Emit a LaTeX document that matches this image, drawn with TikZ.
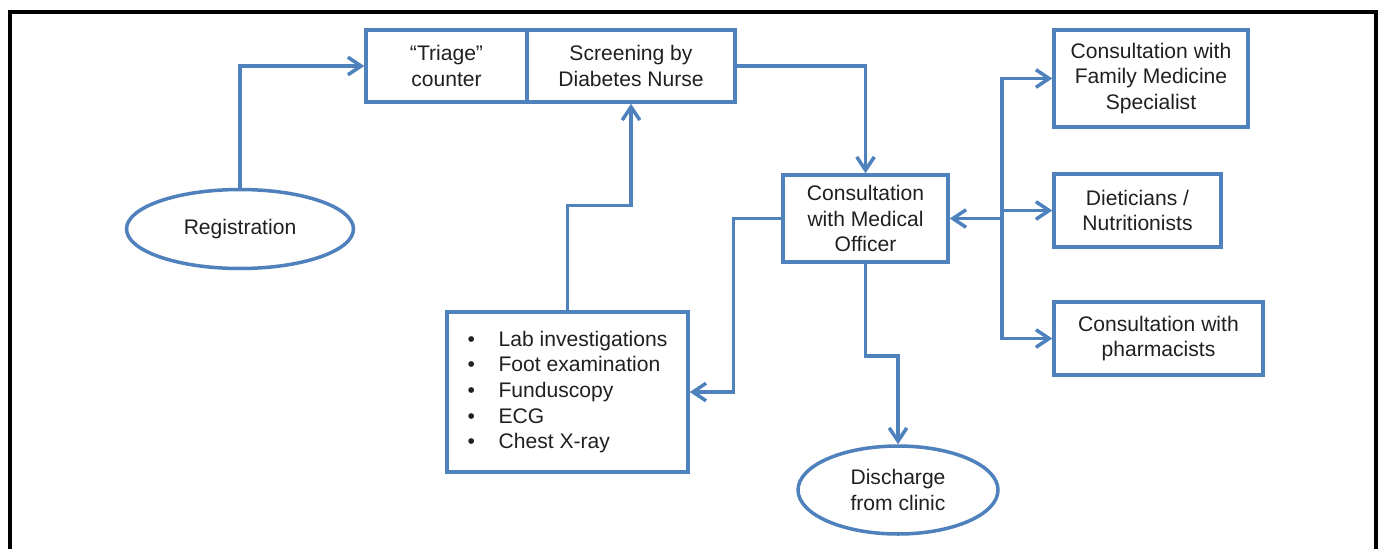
\documentclass[tikz,border=0pt]{standalone}
\usepackage{fontspec}
\setmainfont{Liberation Sans}
\usetikzlibrary{arrows.meta,shapes.geometric}
\definecolor{flowblue}{HTML}{4F81BD}
\definecolor{inktext}{HTML}{231F20}
\tikzset{
    flowbox/.style={draw=flowblue, line width=2pt, rectangle, align=center,
        text=inktext, font=\fontsize{12}{14.6}\selectfont, inner sep=0pt},
    flowoval/.style={flowbox, ellipse},
    flowarrow/.style={draw=flowblue, line width=2pt,
        -{Straight Barb[length=7.5pt,width=10pt,line width=2pt]}},
    flowline/.style={draw=flowblue, line width=2pt}
}
\begin{document}
\begin{tikzpicture}[x=0.02cm, y=-0.02cm]
    \useasboundingbox (0,0) rectangle (1381,548);

    % Draw the outer frame (its bottom side falls off the page)
    \draw[line width=2pt] (10,12) rectangle (1376,600);

    % Draw the boxes of the clinic flow
    \node[flowoval, minimum width=4.54cm, minimum height=1.58cm] (reg) at (240,229) {Registration};
    \node[flowbox, minimum width=3.22cm, minimum height=1.44cm] (triage) at (446.5,66) {“Triage”\\counter};
    \node[flowbox, minimum width=4.16cm, minimum height=1.44cm] (screen) at (631,66) {Screening by\\Diabetes Nurse};
    \node[flowbox, minimum width=3.3cm, minimum height=1.74cm] (mo) at (865.5,218.5) {Consultation\\with Medical\\Officer};
    \node[flowbox, minimum width=4.82cm, minimum height=3.2cm, align=left] (lab) at (567.5,392) {%
        \makebox[0.62cm][l]{\textbullet}Lab investigations\\
        \makebox[0.62cm][l]{\textbullet}Foot examination\\
        \makebox[0.62cm][l]{\textbullet}Funduscopy\\
        \makebox[0.62cm][l]{\textbullet}ECG\\
        \makebox[0.62cm][l]{\textbullet}Chest X-ray};
    \node[flowoval, minimum width=4cm, minimum height=1.76cm] (dis) at (898,490) {Discharge\\from clinic};

    % Draw the referral boxes on the right
    \node[flowbox, minimum width=3.88cm, minimum height=1.94cm] (fms) at (1151,78.5) {Consultation with\\Family Medicine\\Specialist};
    \node[flowbox, minimum width=3.34cm, minimum height=1.46cm] (diet) at (1137.5,210.5) {Dieticians /\\Nutritionists};
    \node[flowbox, minimum width=4.18cm, minimum height=1.46cm] (pharm) at (1158.5,338.5) {Consultation with\\pharmacists};

    % Draw the connectors between the steps
    \draw[flowarrow] (reg.north) |- (triage.west);
    \draw[flowarrow] (screen.east) -| (mo.north);
    \draw[flowarrow] (mo.west) -- ++(-48,0) |- (lab.east);
    \draw[flowarrow] (lab.north) -- ++(0,-105) -| (screen.south);
    \draw[flowarrow] (mo.south) -- ++(0,92) -| (dis.north);

    % Draw the hub feeding the referrals
    \coordinate (hub) at (1002,218.5);
    \draw[flowarrow] (hub) -- (mo.east);
    \draw[flowarrow] (hub) |- (fms.west);
    \draw[flowarrow] (hub) |- (pharm.west);
    \draw[flowarrow] (hub |- diet.west) -- (diet.west);
\end{tikzpicture}
\end{document}
